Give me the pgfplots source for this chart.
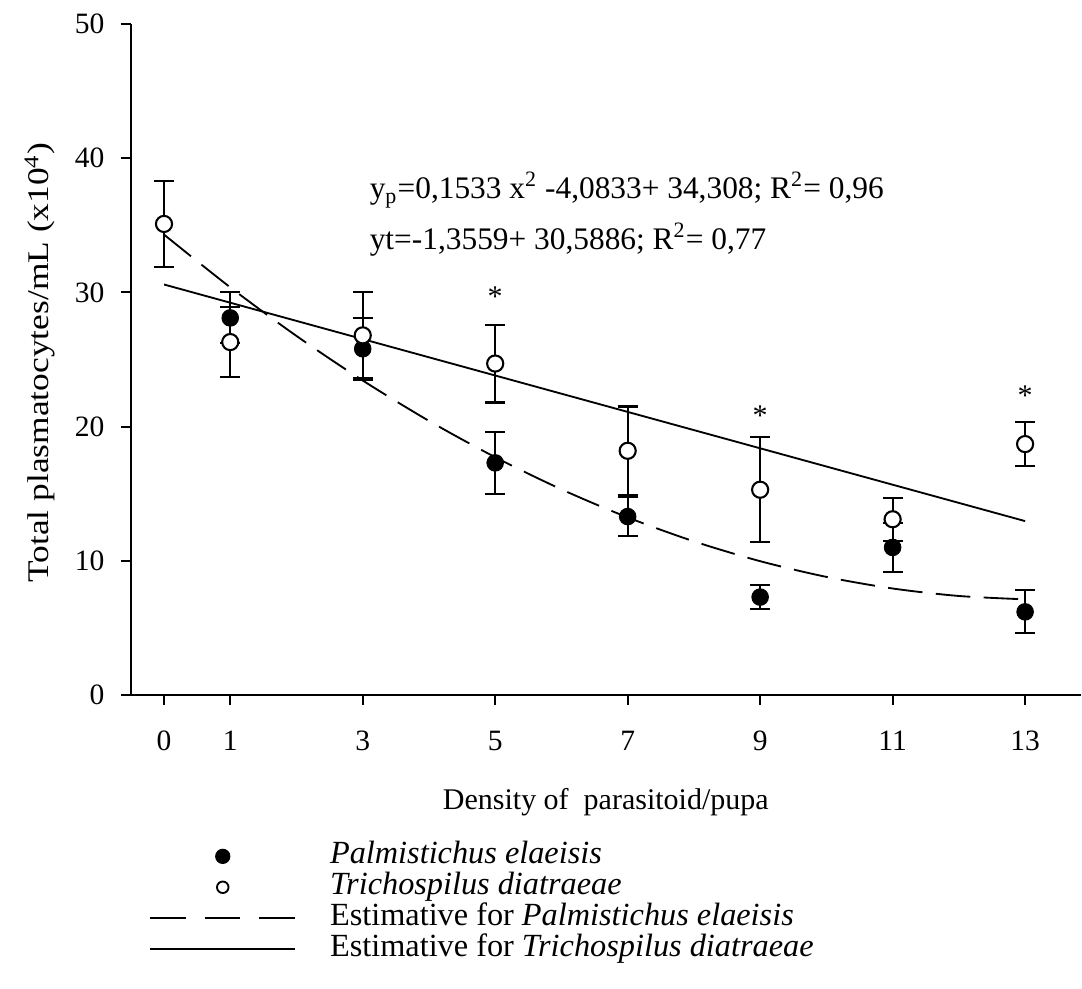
\documentclass[12pt,border=0pt]{standalone}
\usepackage{fontspec}
\setmainfont{Liberation Serif}
\usepackage{graphicx}
\usepackage{pgfplots}
\pgfplotsset{compat=1.18}

\begin{document}
\begin{tikzpicture}
\begin{axis}[
    scale only axis,
    width=411.7pt, height=290.9pt,
    xmin=-0.5, xmax=13.84,
    ymin=0, ymax=50,
    axis lines=left,
    axis line style={-, line width=1.1pt},
    xtick={0,1,3,5,7,9,11,13},
    ytick={0,10,...,50},
    tick align=outside,
    major tick length=4.3pt,
    tick style={line width=0.8pt, black},
    /pgf/number format/assume math mode=true,
    tick label style={font=\fontsize{12.8}{15}\selectfont},
    xticklabel style={yshift=-7pt},
    yticklabel style={xshift=-3pt},
    clip=false,
    legend cell align=left,
    legend style={draw=none, fill=none, at={(rel axis cs:0.019,-0.219)},
        anchor=north west, inner sep=0pt, outer sep=0pt,
        row sep=1pt, column sep=14.7pt,
        font=\fontsize{14}{16}\selectfont,
        nodes={inner sep=0pt, text height=9.5pt, text depth=2.9pt}},
    ]
% legend images
\addlegendimage{legend image code/.code={
    \path[draw=none] (0pt,0pt) -- (63pt,0pt);
    \fill[black] (31.6pt,0pt) circle (3.1pt);}}
\addlegendimage{legend image code/.code={
    \path[draw=none] (0pt,0pt) -- (63pt,0pt);
    \draw[black, line width=0.8pt] (31.6pt,0pt) circle (2.5pt);}}
\addlegendimage{legend image code/.code={
    \draw[black, line width=0.8pt, dash pattern=on 15.5pt off 8.25pt] (0pt,0pt) -- (63pt,0pt);}}
\addlegendimage{legend image code/.code={
    \draw[black, line width=0.8pt] (0pt,0pt) -- (63pt,0pt);}}
\legend{\textit{Palmistichus elaeisis}, \textit{Trichospilus diatraeae},
    Estimative for \textit{Palmistichus elaeisis}, Estimative for \textit{Trichospilus diatraeae}}

% fitted curves
\addplot[black, line width=0.8pt, smooth, dash pattern=on 15pt off 5.8pt, forget plot]
coordinates {
(0,34.308) (1,30.378) (2,26.755) (3,23.438) (4,20.428) (5,17.724) (6,15.327)
(7,13.237) (8,11.453) (9,9.976) (10,8.805) (11,7.941) (12,7.384) (13,7.133)
};
\addplot[black, line width=0.8pt, forget plot]
coordinates {(0,30.5886) (13,12.9619)};

% Palmistichus elaeisis
\addplot[black, only marks, mark=*, mark size=3.6pt, forget plot,
    error bars/.cd, y dir=both, y explicit,
    error bar style={line width=0.9pt, black},
    error mark options={rotate=90, mark size=4.3pt, line width=0.9pt, black}]
coordinates {
(1,28.1) +- (0,1.9)
(3,25.8) +- (0,2.3)
(5,17.3) +- (0,2.3)
(7,13.3) +- (0,1.45)
(9,7.3) +- (0,0.9)
(11,11.0) +- (0,1.8)
(13,6.2) +- (0,1.6)
};

% Trichospilus diatraeae
\addplot[black, only marks, mark=*, mark size=3.5pt, forget plot,
    mark options={fill=white, draw=black, line width=0.9pt},
    error bars/.cd, y dir=both, y explicit,
    error bar style={line width=0.9pt, black},
    error mark options={rotate=90, mark size=4.3pt, line width=0.9pt, black}]
coordinates {
(0,35.1) +- (0,3.2)
(1,26.3) +- (0,2.6)
(3,26.8) +- (0,3.2)
(5,24.7) +- (0,2.9)
(7,18.2) +- (0,3.3)
(9,15.3) +- (0,3.9)
(11,13.1) +- (0,1.6)
(13,18.7) +- (0,1.65)
};

% significance marks
\node[anchor=base, font=\fontsize{13}{15}\selectfont] at (axis cs:5,28.95) {*};
\node[anchor=base, font=\fontsize{13}{15}\selectfont] at (axis cs:9,20.1) {*};
\node[anchor=base, font=\fontsize{13}{15}\selectfont] at (axis cs:13,21.6) {*};

% equations
\node[anchor=base west, inner sep=0pt, font=\fontsize{13.6}{16}\selectfont] at (axis cs:3.10,37.0)
    {y\textsubscript{p}=0,1533 x\textsuperscript{2} -4,0833+ 34,308; R\textsuperscript{2}= 0,96};
\node[anchor=base west, inner sep=0pt, font=\fontsize{13.6}{16}\selectfont] at (axis cs:3.10,33.2)
    {yt=-1,3559+ 30,5886; R\textsuperscript{2}= 0,77};

% axis labels
\node[rotate=90, font=\fontsize{13}{15}\selectfont] at (rel axis cs:-0.096,0.4955)
    {\scalebox{1.18}[1]{Total plasmatocytes/mL (x10\textsuperscript{4})}};
\node[font=\fontsize{13}{15}\selectfont] at (rel axis cs:0.5,-0.159) {Density of \ parasitoid/pupa};

\coordinate (bbl) at (rel axis cs:-0.1378,-0.4375);
\coordinate (btr) at (rel axis cs:1,1.0357);
\end{axis}
\path (bbl) rectangle (btr);
\end{tikzpicture}
\end{document}
